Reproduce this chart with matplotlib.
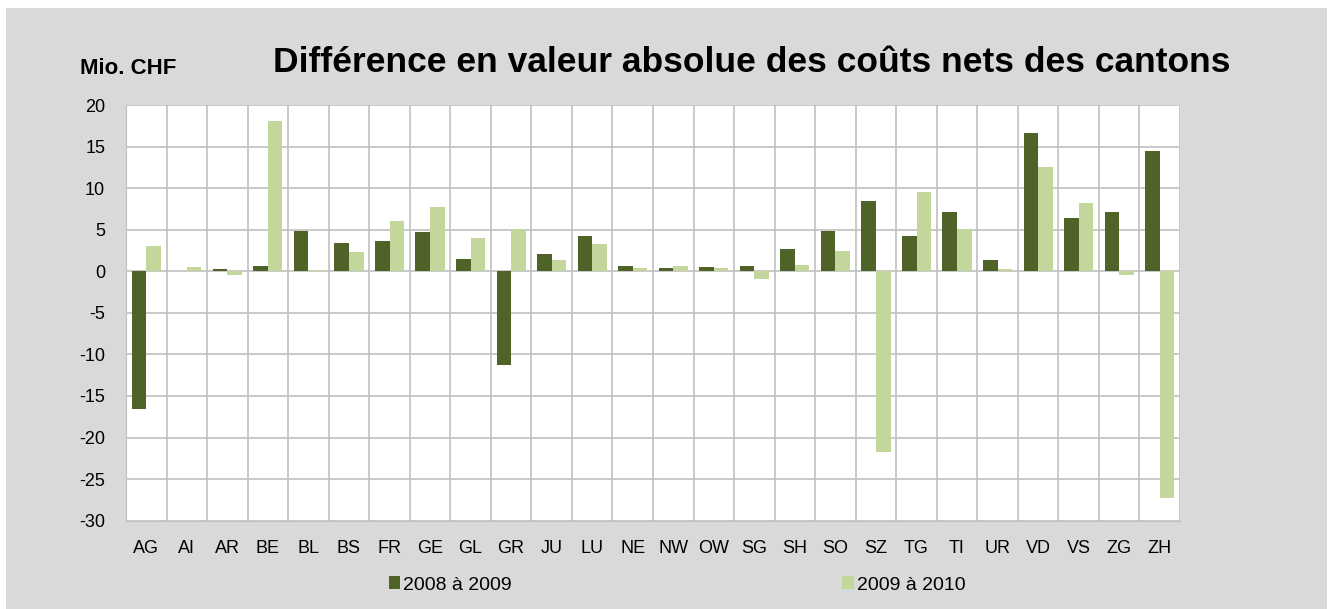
import numpy as np
import matplotlib.pyplot as plt
from matplotlib.patches import Rectangle

cantons = ["AG", "AI", "AR", "BE", "BL", "BS", "FR", "GE", "GL", "GR", "JU", "LU", "NE",
           "NW", "OW", "SG", "SH", "SO", "SZ", "TG", "TI", "UR", "VD", "VS", "ZG", "ZH"]
d0809 = [-16.6, 0.0, 0.3, 0.6, 4.8, 3.4, 3.7, 4.7, 1.5, -11.3, 2.1, 4.2, 0.6,
         0.35, 0.55, 0.6, 2.7, 4.8, 8.4, 4.2, 7.1, 1.4, 16.6, 6.4, 7.1, 14.5]
d0910 = [3.1, 0.55, -0.5, 18.1, 0.1, 2.3, 6.1, 7.7, 4.0, 5.1, 1.4, 3.3, 0.35,
         0.6, 0.45, -0.9, 0.7, 2.4, -21.7, 9.5, 5.1, 0.3, 12.5, 8.2, -0.5, -27.3]
labels = ["2008 à 2009", "2009 à 2010"]
yticks = [20, 15, 10, 5, 0, -5, -10, -15, -20, -25, -30]

dark = "#4f6228"
light = "#c3d69b"
grid = "#c0c0c0"
bg = "#d9d9d9"
narrow = ['Liberation Sans Narrow', 'Liberation Sans']

plt.rcParams['font.family'] = ['Liberation Sans', 'DejaVu Sans']

fig = plt.figure(figsize=(13.34, 6.09), dpi=100, facecolor="white")
fig.patches.append(Rectangle((6 / 1334, 0), 1321 / 1334, 601 / 609,
                             transform=fig.transFigure, facecolor=bg,
                             edgecolor="none", zorder=-10))

ax = fig.add_axes([126 / 1334, (609 - 520.7) / 609, 1054 / 1334, 415.7 / 609])
ax.set_facecolor("white")

x = np.arange(len(cantons))
w = 0.36
ax.bar(x - w / 2, d0809, w, color=dark, label=labels[0], zorder=3)
ax.bar(x + w / 2, d0910, w, color=light, label=labels[1], zorder=3)

ax.set_xlim(-0.5, len(cantons) - 0.5)
ax.set_ylim(-30, 20)
ax.set_yticks(yticks)
ax.set_yticklabels([str(v) for v in yticks], fontsize=13)
ax.set_xticks(x)
ax.set_xticklabels(cantons, fontsize=13, family=narrow)
ax.set_xticks(np.arange(len(cantons) + 1) - 0.5, minor=True)
ax.tick_params(axis="both", which="both", length=0)
ax.tick_params(axis="x", pad=14)
ax.tick_params(axis="y", pad=15)
ax.grid(axis="y", color=grid, linewidth=1.2, zorder=0)
ax.grid(axis="x", which="minor", color=grid, linewidth=1.2, zorder=0)
ax.grid(axis="x", which="major", visible=False)
for s in ax.spines.values():
    s.set_visible(False)
ax.spines["left"].set_visible(True)
ax.spines["left"].set_color(grid)
ax.spines["bottom"].set_visible(True)
ax.spines["bottom"].set_color(grid)

fig.text(752 / 1334, 1 - 62 / 609, "Différence en valeur absolue des coûts nets des cantons",
         fontsize=25.5, fontweight="bold", ha="center", va="center")
fig.text(80 / 1334, 1 - 68 / 609, "Mio. CHF", fontsize=16, fontweight="bold",
         ha="left", va="center")

fig.legend(loc="center", bbox_to_anchor=(677 / 1334, 1 - 585 / 609), ncol=2,
           frameon=False, handlelength=0.6, handleheight=0.6, handletextpad=0.15,
           columnspacing=17, prop={'family': narrow, 'size': 14})

fig.savefig("out.png", dpi=100, facecolor=fig.get_facecolor())
